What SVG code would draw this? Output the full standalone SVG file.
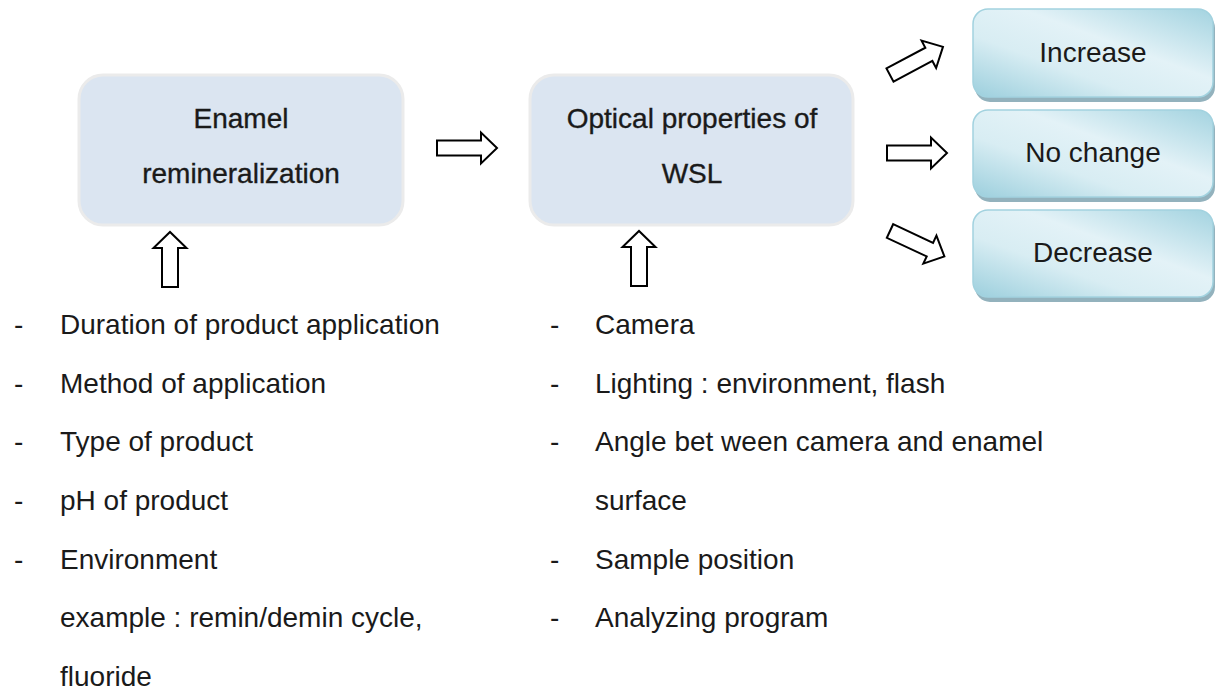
<svg xmlns="http://www.w3.org/2000/svg" width="1224" height="693" viewBox="0 0 1224 693">
<defs>
<linearGradient id="g" x1="0" y1="1" x2="1" y2="0">
<stop offset="0" stop-color="#9ccfdd"/>
<stop offset="0.35" stop-color="#d8edf3"/>
<stop offset="0.6" stop-color="#e3f2f7"/>
<stop offset="1" stop-color="#a3d3e0"/>
</linearGradient>
<path id="arr" d="M0,-7.5 H44 V-15.5 L60,0 L44,15.5 V7.5 H0 Z"/>
<path id="up" d="M-8,0 V-39 H-16.5 L0,-55 L16.5,-39 H8 V0 Z"/>
</defs>
<style>
text{font-family:"Liberation Sans",Arial,sans-serif;font-size:28px;fill:#1a1a1a}
.mid{text-anchor:middle}
.bt{stroke:#1a1a1a;stroke-width:0.35}
.box{fill:#dbe5f1;stroke:#ebebeb;stroke-width:3}
.rb{fill:url(#g);stroke:#a2d2df;stroke-width:1.5}
.sh{fill:#93b2bd}
.a{fill:#fff;stroke:#000;stroke-width:2;stroke-linejoin:miter}
</style>
<rect width="1224" height="693" fill="#fff"/>

<g id="enamel">
<rect class="box" x="79" y="75" width="324" height="150" rx="24"/>
<text class="mid bt" x="241" y="128">Enamel</text>
<text class="mid bt" x="241" y="183">remineralization</text>
</g>

<g id="optical">
<rect class="box" x="530" y="75" width="323" height="150" rx="24"/>
<text class="mid bt" x="692" y="128">Optical properties of</text>
<text class="mid bt" x="692" y="183">WSL</text>
</g>

<g id="increase">
<rect class="sh" x="975" y="13" width="240" height="89" rx="15"/>
<rect class="rb" x="973" y="9" width="240" height="88" rx="15"/>
<text class="mid" x="1093" y="62">Increase</text>
</g>

<g id="nochange">
<rect class="sh" x="975" y="114" width="240" height="88" rx="15"/>
<rect class="rb" x="973" y="110" width="240" height="87" rx="15"/>
<text class="mid" x="1093" y="162">No change</text>
</g>

<g id="decrease">
<rect class="sh" x="975" y="214" width="240" height="88" rx="15"/>
<rect class="rb" x="973" y="210" width="240" height="87" rx="15"/>
<text class="mid" x="1093" y="262">Decrease</text>
</g>

<g id="connectors">
<use href="#arr" class="a" transform="translate(437,148)"/>
<use href="#arr" class="a" transform="translate(890,75) rotate(-28)"/>
<use href="#arr" class="a" transform="translate(887,153)"/>
<use href="#arr" class="a" transform="translate(890,231) rotate(25)"/>
<use href="#up" class="a" transform="translate(170,287)"/>
<use href="#up" class="a" transform="translate(639,286)"/>
</g>

<g id="factors-remineralization">
<text x="14" y="334">-</text><text x="60" y="334">Duration of product application</text>
<text x="14" y="393">-</text><text x="60" y="393">Method of application</text>
<text x="14" y="451">-</text><text x="60" y="451">Type of product</text>
<text x="14" y="510">-</text><text x="60" y="510">pH of product</text>
<text x="14" y="569">-</text><text x="60" y="569">Environment</text>
<text x="60" y="627">example : remin/demin cycle,</text>
<text x="60" y="686">fluoride</text>
</g>

<g id="factors-optical">
<text x="550" y="334">-</text><text x="595" y="334">Camera</text>
<text x="550" y="393">-</text><text x="595" y="393">Lighting : environment, flash</text>
<text x="550" y="451">-</text><text x="595" y="451">Angle bet ween camera and enamel</text>
<text x="595" y="510">surface</text>
<text x="550" y="569">-</text><text x="595" y="569">Sample position</text>
<text x="550" y="627">-</text><text x="595" y="627">Analyzing program</text>
</g>
</svg>
